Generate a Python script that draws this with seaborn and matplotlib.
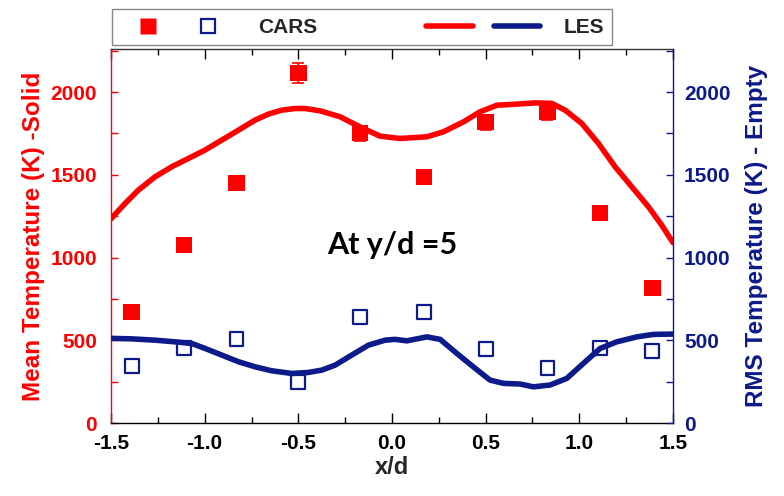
import numpy as np
import pandas as pd
import seaborn as sns
import matplotlib
matplotlib.use("Agg")
import matplotlib.pyplot as plt
from matplotlib.legend_handler import HandlerTuple
from matplotlib.lines import Line2D
from matplotlib.ticker import MultipleLocator

# ---------------- data ----------------
cars_x = [-1.39, -1.11, -0.83, -0.50, -0.17, 0.17, 0.50, 0.83, 1.11, 1.39]
cars_mean = [671, 1075, 1450, 2115, 1752, 1486, 1818, 1879, 1269, 816]
cars_mean_err = [25, 25, 25, 60, 45, 30, 45, 45, 25, 25]
cars_rms = [344, 455, 509, 250, 642, 671, 449, 332, 455, 435]

les_mean_x = [-1.50, -1.425, -1.354, -1.265, -1.176, -1.087, -0.998, -0.909, -0.820,
              -0.731, -0.660, -0.589, -0.518, -0.464, -0.384, -0.277, -0.171, -0.064,
              0.043, 0.186, 0.274, 0.381, 0.470, 0.560, 0.657, 0.764, 0.853, 0.924,
              1.013, 1.102, 1.191, 1.280, 1.369, 1.440, 1.50]
les_mean = [1235, 1327, 1408, 1488, 1549, 1599, 1650, 1710, 1770,
            1831, 1867, 1891, 1901, 1901, 1887, 1851, 1790, 1734,
            1720, 1730, 1760, 1820, 1881, 1921, 1927, 1935, 1932, 1891,
            1811, 1690, 1549, 1428, 1307, 1196, 1090]

les_rms_x = [-1.50, -1.389, -1.265, -1.158, -1.069, -0.998, -0.909, -0.820, -0.731,
             -0.642, -0.535, -0.447, -0.375, -0.304, -0.215, -0.126, -0.037, 0.016,
             0.079, 0.186, 0.257, 0.346, 0.434, 0.523, 0.595, 0.684, 0.755, 0.844,
             0.933, 1.022, 1.111, 1.200, 1.307, 1.396, 1.50]
les_rms = [512, 509, 501, 491, 481, 451, 411, 371, 340,
           316, 300, 306, 320, 350, 411, 471, 501, 506,
           497, 521, 506, 421, 340, 260, 240, 236, 219, 230,
           270, 361, 451, 491, 521, 536, 538]

x_ticks = [-1.5, -1.0, -0.5, 0.0, 0.5, 1.0, 1.5]
x_ticklabels = ["-1.5", "-1.0", "-0.5", "0.0", "0.5", "1.0", "1.5"]
y_ticks = [0, 500, 1000, 1500, 2000]

RED = "#ff0000"
NAVY = "#0c1a8a"

sns.set_style("ticks")
plt.rcParams["font.family"] = ["Liberation Sans", "DejaVu Sans"]
plt.rcParams["font.weight"] = "bold"
plt.rcParams["axes.labelweight"] = "bold"

fig = plt.figure(figsize=(7.84, 4.96), dpi=100)
ax = fig.add_axes([0.1416, 0.147, 0.7168, 0.754])

mean_df = pd.DataFrame({"x": les_mean_x, "T": les_mean})
rms_df = pd.DataFrame({"x": les_rms_x, "T": les_rms})
cars_df = pd.DataFrame({"x": cars_x, "mean": cars_mean, "err": cars_mean_err, "rms": cars_rms})

# mean (left axis)
ax.errorbar(cars_df["x"], cars_df["mean"], yerr=cars_df["err"], fmt="none",
            ecolor=RED, elinewidth=1.2, capsize=4, capthick=1.2, zorder=2)
sns.lineplot(data=mean_df, x="x", y="T", ax=ax, color=RED, lw=4, sort=False, zorder=3)
sns.scatterplot(data=cars_df, x="x", y="mean", ax=ax, marker="s", color=RED,
                s=140, edgecolor="none", zorder=4)

ax.set_xlim(-1.5, 1.5)
ax.set_ylim(0, 2260)
ax.set_xticks(x_ticks)
ax.set_xticklabels(x_ticklabels)
ax.xaxis.set_minor_locator(MultipleLocator(0.25))
ax.set_yticks(y_ticks)
ax.yaxis.set_minor_locator(MultipleLocator(250))
ax.tick_params(axis="x", which="both", direction="in", top=True, colors="black",
               labelsize=15, pad=8)
ax.tick_params(axis="x", which="major", length=7, width=1)
ax.tick_params(axis="x", which="minor", length=4, width=1)
ax.tick_params(axis="y", which="both", direction="in", colors=RED, labelsize=15,
               length=5, width=1, pad=10)
ax.set_xlabel("x/d", fontsize=17, fontweight="bold", labelpad=2)
ax.set_ylabel("Mean Temperature (K) -Solid", fontsize=17.5, fontweight="bold",
              color=RED, labelpad=4)
for side, col in [("left", RED), ("bottom", "black"), ("top", "#333333")]:
    ax.spines[side].set_color(col)
    ax.spines[side].set_linewidth(1)
ax.spines["right"].set_visible(False)

ax.text(0.0, 1075, "At y/d =5", ha="center", va="center", fontsize=22,
        fontweight="bold", family=["Lato", "DejaVu Sans"], color="black")

# rms (right axis)
ax2 = ax.twinx()
sns.lineplot(data=rms_df, x="x", y="T", ax=ax2, color=NAVY, lw=4, sort=False, zorder=3)
sns.scatterplot(data=cars_df, x="x", y="rms", ax=ax2, marker="s", facecolors="none",
                edgecolor=NAVY, linewidth=1.6, s=100, zorder=4)
ax2.set_ylim(0, 2260)
ax2.set_yticks(y_ticks)
ax2.yaxis.set_minor_locator(MultipleLocator(250))
ax2.tick_params(axis="y", which="both", direction="in", colors=NAVY, labelsize=15,
                length=5, width=1, pad=8)
ax2.set_ylabel("RMS Temperature (K) - Empty", fontsize=17.5, fontweight="bold",
               color=NAVY, labelpad=10)
for side in ["left", "top", "bottom"]:
    ax2.spines[side].set_visible(False)
ax2.spines["right"].set_color(NAVY)
ax2.spines["right"].set_linewidth(1)
ax2.set_xlabel("")

# legend
h_filled = Line2D([], [], marker="s", ls="none", color=RED, markersize=11, mec="none")
h_open = Line2D([], [], marker="s", ls="none", mfc="none", mec=NAVY, mew=1.6, markersize=10)
h_red = Line2D([], [], color=RED, lw=4, solid_capstyle="round")
h_navy = Line2D([], [], color=NAVY, lw=4, solid_capstyle="round")
cars_handle = (h_filled, h_open)
les_handle = (h_red, h_navy)
leg = fig.legend([cars_handle, les_handle], ["CARS", "LES"],
                 handler_map={cars_handle: HandlerTuple(ndivide=None, pad=0.3),
                              les_handle: HandlerTuple(ndivide=None, pad=1.0)},
                 ncol=2, mode="expand", loc="lower left",
                 bbox_to_anchor=(0.143, 0.909, 0.638, 0.067),
                 bbox_transform=fig.transFigure, borderaxespad=0,
                 handlelength=5.5, handletextpad=1.1, fancybox=False,
                 framealpha=1, edgecolor="#888888",
                 prop={"size": 15, "weight": "bold"})
leg.get_frame().set_linewidth(1)

fig.savefig("out.png", dpi=100)
